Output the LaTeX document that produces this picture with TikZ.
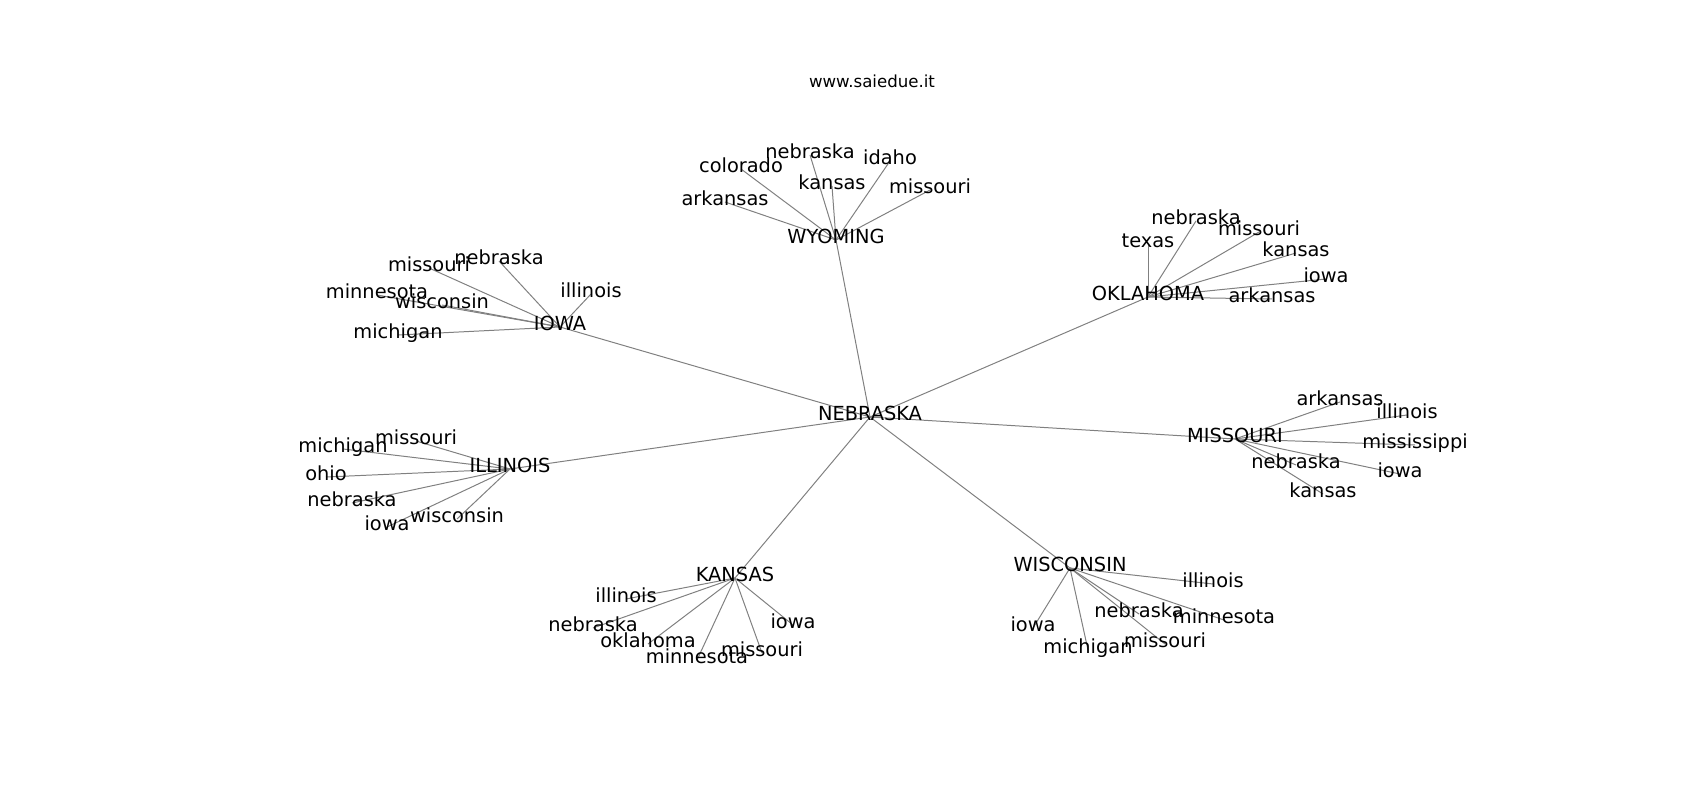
\documentclass[tikz,border=0pt]{standalone}
\usepackage{fontspec}
\setmainfont{DejaVu Sans}
\pgfdeclarelayer{bg}
\pgfsetlayers{bg,main}
\tikzset{
  lab/.style={inner sep=0pt,text height=0.76em,text depth=0.208em,font=\fontsize{14}{16}\selectfont},
  link/.style={draw=black!50,line width=0.72pt}
}

\begin{document}
\begin{tikzpicture}[x=0.01in,y=-0.01in]
  \useasboundingbox (0,0) rectangle (1700,800);
  \node[lab,font=\fontsize{12}{14}\selectfont] (title) at (872,84) {www.saiedue.it};
  % hubs
  \node[lab] (ne) at (870,417) {NEBRASKA};
  \node[lab] (wy) at (836,240) {WYOMING};
  \node[lab] (ia) at (560,327) {IOWA};
  \node[lab] (ok) at (1148,297) {OKLAHOMA};
  \node[lab] (il) at (510,469) {ILLINOIS};
  \node[lab] (mo) at (1235,439) {MISSOURI};
  \node[lab] (ks) at (735,578) {KANSAS};
  \node[lab] (wi) at (1070,568) {WISCONSIN};
  % wyoming
  \node[lab] (wyco) at (741,169) {colorado};
  \node[lab] (wyne) at (810,155) {nebraska};
  \node[lab] (wyka) at (832,186) {kansas};
  \node[lab] (wyid) at (890,161) {idaho};
  \node[lab] (wymo) at (930,190) {missouri};
  \node[lab] (wyar) at (725,202) {arkansas};
  % iowa
  \node[lab] (iamo) at (429,268) {missouri};
  \node[lab] (iane) at (499,261) {nebraska};
  \node[lab] (iail) at (591,294) {illinois};
  \node[lab] (iamn) at (377,295) {minnesota};
  \node[lab] (iawi) at (442,305) {wisconsin};
  \node[lab] (iami) at (398,335) {michigan};
  % oklahoma
  \node[lab] (okte) at (1148,244) {texas};
  \node[lab] (okne) at (1196,221) {nebraska};
  \node[lab] (okmo) at (1259,232) {missouri};
  \node[lab] (okka) at (1296,253) {kansas};
  \node[lab] (okia) at (1326,279) {iowa};
  \node[lab] (okar) at (1272,299) {arkansas};
  % illinois
  \node[lab] (ilmo) at (416,441) {missouri};
  \node[lab] (ilmi) at (343,449) {michigan};
  \node[lab] (iloh) at (326,477) {ohio};
  \node[lab] (ilne) at (352,503) {nebraska};
  \node[lab] (ilia) at (387,527) {iowa};
  \node[lab] (ilwi) at (457,519) {wisconsin};
  % missouri
  \node[lab] (moar) at (1340,402) {arkansas};
  \node[lab] (moil) at (1407,415) {illinois};
  \node[lab] (moms) at (1415,445) {mississippi};
  \node[lab] (moia) at (1400,474) {iowa};
  \node[lab] (mone) at (1296,465) {nebraska};
  \node[lab] (moka) at (1323,494) {kansas};
  % kansas
  \node[lab] (ksil) at (626,599) {illinois};
  \node[lab] (ksne) at (593,628) {nebraska};
  \node[lab] (ksok) at (648,644) {oklahoma};
  \node[lab] (ksmn) at (697,660) {minnesota};
  \node[lab] (ksmo) at (762,653) {missouri};
  \node[lab] (ksia) at (793,625) {iowa};
  % wisconsin
  \node[lab] (wiil) at (1213,584) {illinois};
  \node[lab] (wimn) at (1224,620) {minnesota};
  \node[lab] (wine) at (1139,614) {nebraska};
  \node[lab] (wimo) at (1165,644) {missouri};
  \node[lab] (wimi) at (1088,650) {michigan};
  \node[lab] (wiia) at (1033,628) {iowa};
  \begin{pgfonlayer}{bg}
    \foreach \h in {wy,ia,ok,il,mo,ks,wi} \draw[link] (ne.center)--(\h.center);
    \foreach \x in {co,ne,ka,id,mo,ar} \draw[link] (wy.center)--(wy\x.center);
    \foreach \x in {mo,ne,il,mn,wi,mi} \draw[link] (ia.center)--(ia\x.center);
    \foreach \x in {te,ne,mo,ka,ia,ar} \draw[link] (ok.center)--(ok\x.center);
    \foreach \x in {mo,mi,oh,ne,ia,wi} \draw[link] (il.center)--(il\x.center);
    \foreach \x in {ar,il,ms,ia,ne,ka} \draw[link] (mo.center)--(mo\x.center);
    \foreach \x in {il,ne,ok,mn,mo,ia} \draw[link] (ks.center)--(ks\x.center);
    \foreach \x in {il,mn,ne,mo,mi,ia} \draw[link] (wi.center)--(wi\x.center);
  \end{pgfonlayer}
\end{tikzpicture}
\end{document}
